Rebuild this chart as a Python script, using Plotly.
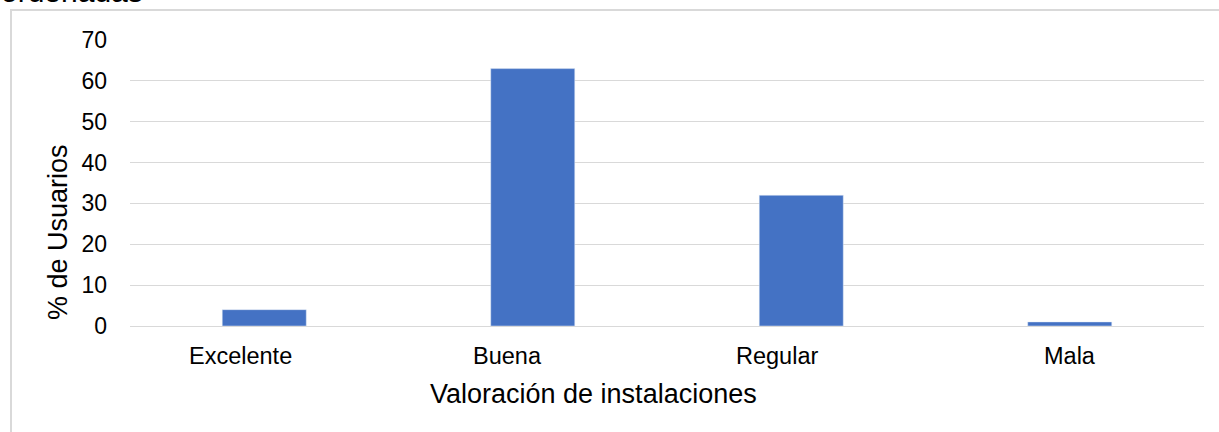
import plotly.graph_objects as go

categories = ["Excelente", "Buena", "Regular", "Mala"]
values = [4, 63, 32, 1]
y_ticks = [0, 10, 20, 30, 40, 50, 60, 70]
label_shift = [-24, -25, -24, 0]

W, H = 1219, 432
L, R, T, B = 130, 15, 40, 106
pw, ph = W - L - R, H - T - B

def px(x):
    return (x - L) / pw

def py(y):
    return (H - B - y) / ph

font = "Liberation Sans, Arial, sans-serif"

fig = go.Figure(go.Bar(x=categories, y=values, marker_color="#4472C4", width=0.313))

annotations = [
    dict(text=c, x=c, xref="x", yref="paper", y=py(356), xshift=s, showarrow=False,
         font=dict(size=23.5), xanchor="center", yanchor="middle")
    for c, s in zip(categories, label_shift)
]
annotations += [
    dict(text="% de Usuarios", xref="paper", yref="paper", x=px(58), y=py(232),
         textangle=-90, showarrow=False, font=dict(size=27), xanchor="center", yanchor="middle"),
    dict(text="Valoración de instalaciones", xref="paper", yref="paper", x=px(593), y=py(394),
         showarrow=False, font=dict(size=27), xanchor="center", yanchor="middle"),
    dict(text="ordenadas", xref="paper", yref="paper", x=px(-1), y=py(10),
         showarrow=False, font=dict(size=30), xanchor="left", yanchor="bottom"),
]

fig.update_layout(
    width=W, height=H,
    margin=dict(l=L, r=R, t=T, b=B, autoexpand=False),
    paper_bgcolor="white", plot_bgcolor="white",
    font=dict(family=font, size=23, color="black"),
    showlegend=False,
    xaxis=dict(showline=True, linecolor="#d9d9d9", linewidth=1, ticks="",
               showticklabels=False, fixedrange=True),
    yaxis=dict(range=[0, 70], tickvals=y_ticks, showgrid=True, gridcolor="#d9d9d9",
               gridwidth=1, zeroline=False, showline=False, ticks="",
               tickfont=dict(size=23), ticklabelstandoff=22, fixedrange=True),
    shapes=[dict(type="rect", xref="paper", yref="paper",
                 x0=px(11), x1=px(1230), y0=py(10), y1=py(445),
                 line=dict(color="#d9d9d9", width=2), fillcolor="rgba(0,0,0,0)", layer="below")],
    annotations=annotations,
)

fig.write_html("out.html", config={"displayModeBar": False},
               post_script="document.body.style.margin='0';")
